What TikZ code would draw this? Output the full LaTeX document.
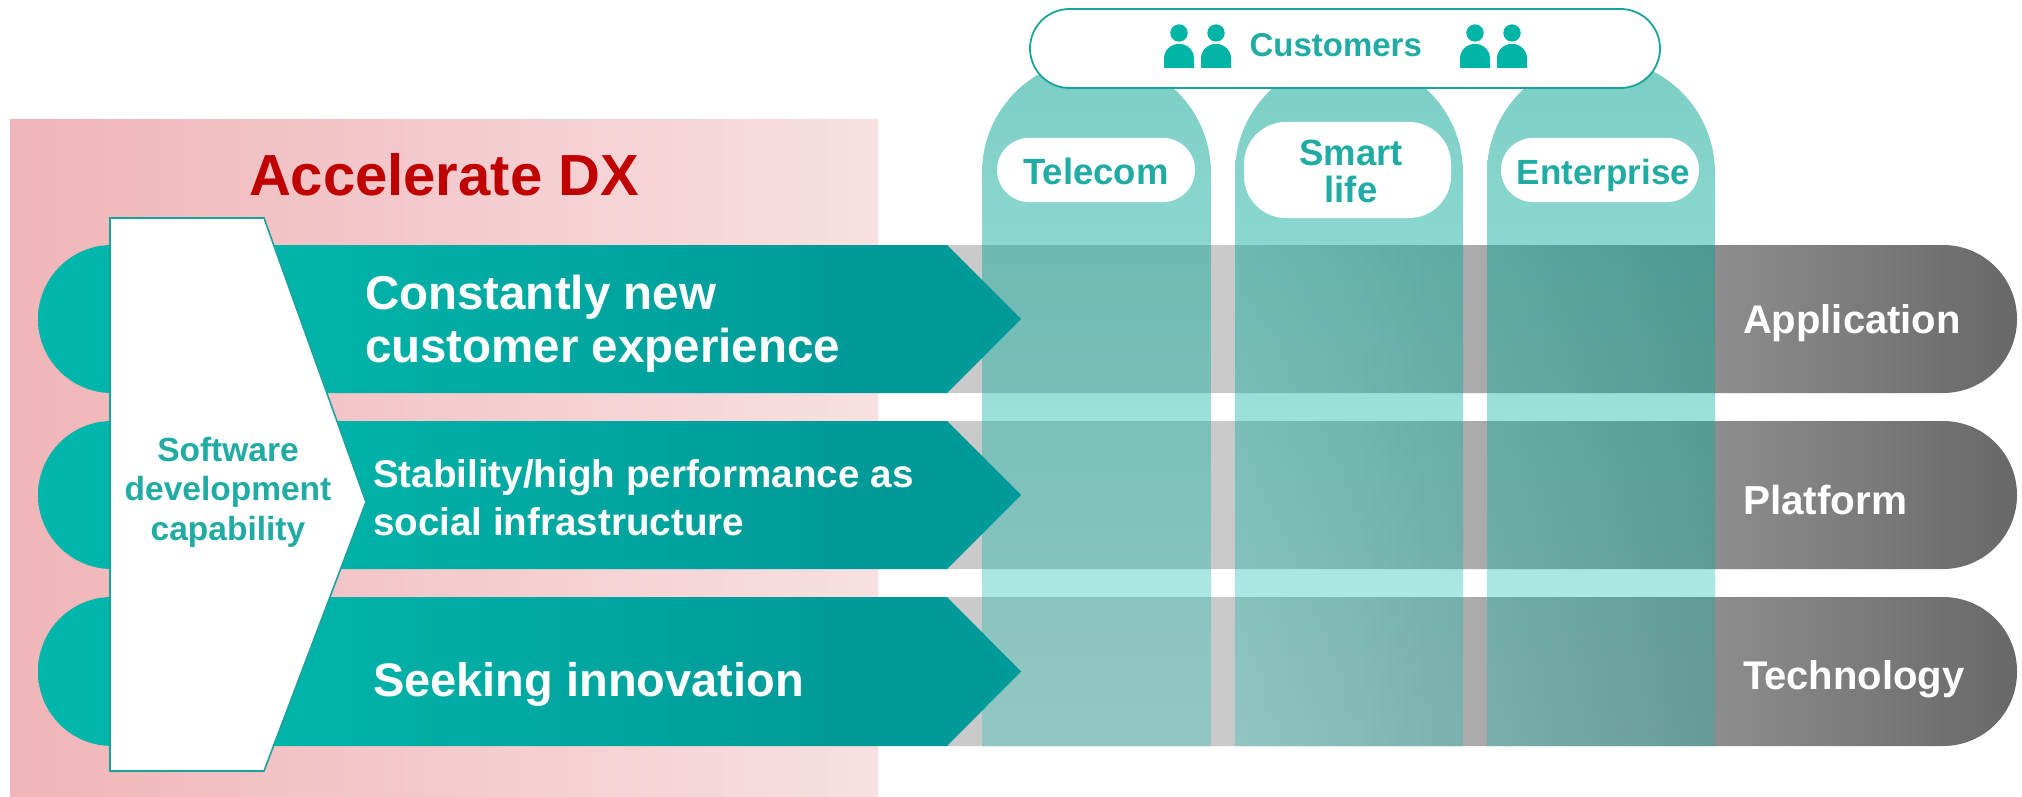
\documentclass[tikz,border=0pt]{standalone}
\usepackage{fontspec}
\setmainfont{Liberation Sans}
\usetikzlibrary{fadings}
\definecolor{tealL}{HTML}{00B5A9}
\definecolor{tealR}{HTML}{009A98}
\definecolor{tealTxt}{HTML}{20ACA5}
\definecolor{tealLine}{HTML}{1AA39C}
\definecolor{colTop}{HTML}{00A08E}
\definecolor{colBot}{HTML}{00BEAF}
\definecolor{personTeal}{HTML}{00B4A8}
\definecolor{pinkL}{HTML}{F0B5B8}
\definecolor{pinkR}{HTML}{F8E0E2}
\definecolor{grayA}{HTML}{CACACA}
\definecolor{grayR}{HTML}{686868}
\definecolor{dxRed}{HTML}{C00000}
\tikzfading[name=colfade,top color=transparent!48,bottom color=transparent!73]
\pgfdeclarehorizontalshading{grayband}{100bp}{color(0bp)=(grayA); color(37.8bp)=(grayA); color(75bp)=(grayR); color(100bp)=(grayR)}
\pgfdeclarehorizontalshading{tealband}{100bp}{color(0bp)=(tealL); color(36.8bp)=(tealL); color(66.3bp)=(tealR); color(100bp)=(tealR)}
\newcommand{\fsz}[2]{\fontsize{#1}{#2}\selectfont\bfseries}
\tikzset{
  x=1pt,y=-1pt,
  txt/.style={inner sep=0pt,outer sep=0pt,anchor=base west,text=white},
  txtc/.style={inner sep=0pt,outer sep=0pt,anchor=base,text=tealTxt},
  arrowbar/.style={shading=tealband,draw=none},
  graybar/.style={shading=grayband,draw=none},
  column/.style={top color=colTop,bottom color=colBot,path fading=colfade,draw=none},
  person/.style={fill=personTeal,draw=none},
}
\newcommand{\grayrow}[2]{%
  \shade[graybar] (947,#1) [sharp corners] -- (1943,#1) [rounded corners=74pt] -- (2017,#1) -- (2017,#2) [sharp corners] -- (947,#2) -- cycle;}
\newcommand{\arrowrow}[3]{%
  \shade[arrowbar] (112,#1) [rounded corners=74pt] -- (38,#1) -- (38,#2) [sharp corners] -- (112,#2) -- (947,#2) -- (1021,#3) -- (947,#1) -- cycle;}
\newcommand{\columnbar}[2]{%
  \shade[column] (#1,746) [rounded corners=114pt] -- (#1,58) -- (#2,58) [sharp corners] -- (#2,746) -- cycle;}
\newcommand{\personicon}[1]{%
  \fill[person] (#1,33) circle[radius=8.7pt];
  \fill[person] ({#1-15},68) [rounded corners=14.5pt] -- ({#1-15},44) -- ({#1+15},44) [sharp corners] -- ({#1+15},68) -- cycle;}
\begin{document}
\begin{tikzpicture}
\useasboundingbox (0,0) rectangle (2022,797);
\shade[left color=pinkL,right color=pinkR] (10,120) rectangle (878,797);
\node[txt,text=dxRed,font=\fsz{58}{70}] (dx) at (249,196) {Accelerate DX};
% gray rows
\grayrow{245}{393}
\grayrow{421}{569}
\grayrow{597}{746}
% columns
\columnbar{982}{1211}
\columnbar{1235}{1463}
\columnbar{1487}{1715}
% arrows
\arrowrow{245}{393}{319}
\arrowrow{421}{569}{495}
\arrowrow{597}{746}{671.5}
% software pentagon
\draw[fill=white,draw=tealLine,line width=1.6pt] (110,218) -- (264,218) -- (366,502) -- (264,771) -- (110,771) -- cycle;
\node[txtc,align=center,font=\fsz{33.5}{39.5}] (sw) at (228,540) {Software\\development\\capability};
% customers
\draw[fill=white,draw=tealLine,line width=1.8pt,rounded corners=39.5pt] (1030,9) rectangle (1660,88);
\node[txtc,anchor=base west,font=\fsz{33}{38}] (cust) at (1249.5,57) {Customers};
\personicon{1179}
\personicon{1216}
\personicon{1475}
\personicon{1512}
% sector pills
\fill[white,rounded corners=32pt] (997,138) rectangle (1195,202);
\fill[white,rounded corners=42pt] (1244,122) rectangle (1451,218);
\fill[white,rounded corners=32pt] (1501,138) rectangle (1699,202);
\node[txtc,font=\fsz{36.5}{37}] (tel) at (1096,185) {Telecom};
\node[txtc,align=center,font=\fsz{36.5}{37}] (sm) at (1351,202) {Smart\\life};
\node[txtc,font=\fsz{35}{37}] (ent) at (1603.5,185) {Enterprise};
% arrow texts
\node[txt,align=left,font=\fsz{47.5}{53}] (a1) at (365,362) {Constantly new\\customer experience};
\node[txt,align=left,font=\fsz{38.6}{48}] (a2) at (373,535) {Stability/high performance as\\social infrastructure};
\node[txt,font=\fsz{47}{55}] (a3) at (373,696) {Seeking innovation};
% right texts
\node[txt,font=\fsz{40}{48}] (r1) at (1743,333) {Application};
\node[txt,font=\fsz{40.5}{48}] (r2) at (1743,514) {Platform};
\node[txt,font=\fsz{40}{48}] (r3) at (1743,689) {Technology};
\end{tikzpicture}
\end{document}
